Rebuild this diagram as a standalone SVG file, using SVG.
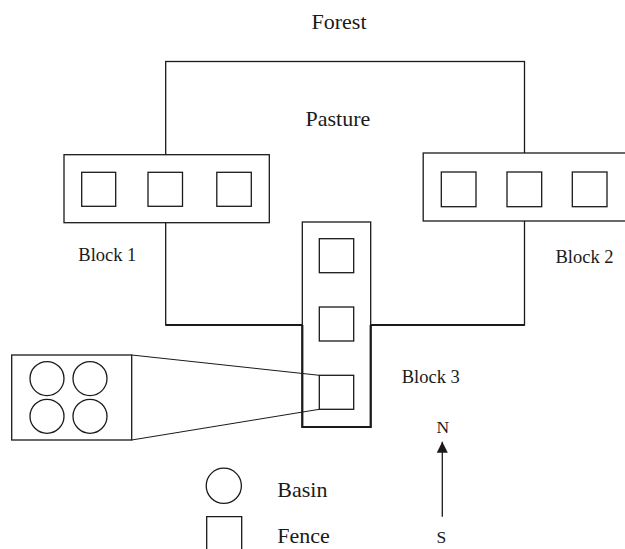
<svg xmlns="http://www.w3.org/2000/svg" width="625" height="549" viewBox="0 0 625 549">
  <style>
    .ln { fill: none; stroke: #1a1a1a; stroke-width: 1.3; }
    .blk { fill: #ffffff; stroke: #1a1a1a; stroke-width: 1.3; }
    .thick { fill: none; stroke: #1a1a1a; stroke-width: 2.2; }
    .conn { fill: none; stroke: #1a1a1a; stroke-width: 1; }
    .t { font-family: "Liberation Serif", "Times New Roman", serif; fill: #1a1a1a; }
    .big { font-size: 22px; }
    .mid { font-size: 18.5px; }
    .sm { font-size: 17.5px; }
  </style>
  <defs>
    <marker id="ah" viewBox="0 0 10 10" refX="10" refY="5" markerWidth="11" markerHeight="11" markerUnits="userSpaceOnUse" orient="auto">
      <path d="M0,0 L10,5 L0,10 Z" fill="#1a1a1a"/>
    </marker>
  </defs>
  <rect width="625" height="549" fill="#ffffff"/>

  <g id="forest">
    <text class="t big" x="311.5" y="29">Forest</text>
  </g>

  <g id="pasture">
    <rect class="ln" x="165.7" y="61.5" width="358.8" height="263.5"/>
    <line class="thick" x1="165.7" y1="325" x2="524.5" y2="325"/>
    <text class="t big" x="305.5" y="126">Pasture</text>
  </g>

  <g id="block1">
    <rect class="blk" x="64" y="154.7" width="205.3" height="68"/>
    <rect class="ln" x="81.7" y="172.3" width="34" height="34"/>
    <rect class="ln" x="148" y="172.3" width="34.5" height="34"/>
    <rect class="ln" x="216.8" y="172.3" width="34.5" height="34"/>
    <text class="t mid" x="78.3" y="260.7">Block 1</text>
  </g>

  <g id="block2">
    <rect class="blk" x="423.2" y="153" width="210" height="68"/>
    <rect class="ln" x="441.3" y="172" width="34.7" height="34.7"/>
    <rect class="ln" x="507" y="172" width="34.7" height="34.7"/>
    <rect class="ln" x="572.3" y="172" width="34.7" height="34.7"/>
    <text class="t mid" x="555.5" y="262.7">Block 2</text>
  </g>

  <g id="block3">
    <rect class="blk" x="302.3" y="222" width="68.4" height="205"/>
    <path class="thick" d="M302.3,325 V427 H370.7 V325"/>
    <rect class="ln" x="319.3" y="238.7" width="34.4" height="34"/>
    <rect class="ln" x="319.3" y="307" width="34.4" height="34"/>
    <rect class="ln" x="319.3" y="375.3" width="34.4" height="34"/>
    <text class="t mid" x="401.7" y="382.7">Block 3</text>
  </g>

  <g id="inset">
    <rect class="ln" x="11.7" y="355" width="120" height="85"/>
    <circle class="ln" cx="47" cy="378.6" r="17"/>
    <circle class="ln" cx="90" cy="378.6" r="17"/>
    <circle class="ln" cx="47" cy="416.3" r="17"/>
    <circle class="ln" cx="90" cy="416.3" r="17"/>
  </g>

  <g id="connectors">
    <line class="conn" x1="131.7" y1="355" x2="319.3" y2="375.3"/>
    <line class="conn" x1="131.7" y1="440" x2="319.3" y2="409.3"/>
    <line class="ln" x1="442.3" y1="516.7" x2="442.3" y2="441.7" marker-end="url(#ah)"/>
  </g>

  <g id="compass">
    <text class="t sm" x="436.5" y="432.5">N</text>
    <text class="t sm" x="436.5" y="542.7">S</text>
  </g>

  <g id="legend">
    <circle class="ln" cx="223.8" cy="485.8" r="17.6"/>
    <text class="t big" x="277.3" y="496.7">Basin</text>
    <path class="ln" d="M206.7,552 V516.7 H241.7 V552"/>
    <text class="t big" x="277.3" y="543.3">Fence</text>
  </g>
</svg>
